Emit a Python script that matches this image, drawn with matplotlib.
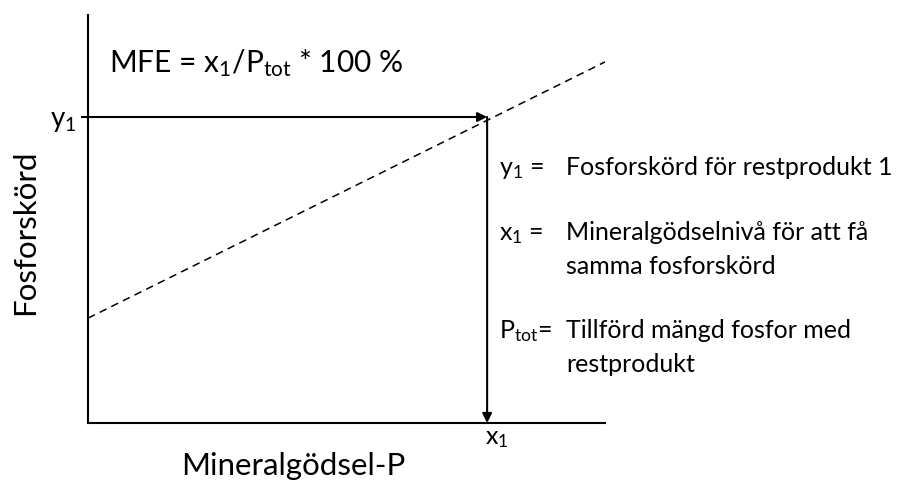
import matplotlib
matplotlib.use("Agg")
import matplotlib.pyplot as plt

plt.rcParams['font.family'] = ['Lato', 'DejaVu Sans']
plt.rcParams['mathtext.fontset'] = 'custom'
plt.rcParams['mathtext.rm'] = 'Lato'
plt.rcParams['mathtext.it'] = 'Lato'

# Data (conceptual units, axis spans 0..1)
line_x = [0.0, 1.0]
line_y = [0.257, 0.885]
x1 = 0.772
y1 = 0.75

x_label = "Mineralgödsel-P"
y_label = "Fosforskörd"
formula = r"MFE = x$_1$/P$_{\mathrm{tot}}$ * 100 %"
defs = [
    (r"y$_1$ =", "Fosforskörd för restprodukt 1", None),
    (r"x$_1$ =", "Mineralgödselnivå för att få", "samma fosforskörd"),
    (r"P$_{\mathrm{tot}}$=", "Tillförd mängd fosfor med", "restprodukt"),
]

W, H = 909, 486
fig = plt.figure(figsize=(W / 100, H / 100), dpi=100)
ax = fig.add_axes([88 / W, (H - 423) / H, (605 - 88) / W, (423 - 15) / H])
ax.set_xlim(0, 1)
ax.set_ylim(0, 1)
ax.patch.set_alpha(0)
for s in ['top', 'right']:
    ax.spines[s].set_visible(False)
for s in ['left', 'bottom']:
    ax.spines[s].set_linewidth(1.5)
    ax.spines[s].set_color('black')

ax.plot(line_x, line_y, color='black', lw=1.1, ls=(0, (5, 3.5)))

ax.annotate("", xy=(x1, y1), xytext=(0, y1),
            arrowprops=dict(arrowstyle='-|>', color='black', lw=1.5,
                            mutation_scale=14, shrinkA=0, shrinkB=0))
ax.annotate("", xy=(x1, 0), xytext=(x1, y1),
            arrowprops=dict(arrowstyle='-|>', color='black', lw=1.5,
                            mutation_scale=14, shrinkA=0, shrinkB=0))

ax.set_yticks([y1])
ax.set_yticklabels([r"y$_1$"], fontsize=20)
ax.set_xticks([x1])
ax.set_xticklabels([r"x$_1$"], fontsize=18, ha='left')
ax.tick_params(axis='y', length=5, width=1.5, pad=3)
ax.tick_params(axis='x', length=0, pad=3)
for lab in ax.get_xticklabels():
    lab.set_x(x1)
import matplotlib.transforms as mtransforms
for lab in ax.get_xticklabels():
    lab.set_transform(lab.get_transform() + mtransforms.ScaledTranslation(-2 / 100, 0, fig.dpi_scale_trans))

ax.set_xlabel(x_label, fontsize=22.5)
ax.xaxis.set_label_coords((293 - 88) / 517, -(466 - 423) / 408)
ax.xaxis.label.set_va('center')
ax.set_ylabel(y_label, fontsize=22.5)
ax.yaxis.set_label_coords(-(88 - 25) / 517, (423 - 232) / 408)
ax.yaxis.label.set_va('center')

fig.text(109 / W, 1 - 72 / H, formula, fontsize=21.5, va='baseline', ha='left')

rows_y = [175, 240, 338]
for (lab, t1, t2), yy in zip(defs, rows_y):
    fig.text(499 / W, 1 - yy / H, lab, fontsize=18, va='baseline', ha='left')
    fig.text(566 / W, 1 - yy / H, t1, fontsize=18, va='baseline', ha='left')
    if t2:
        fig.text(566 / W, 1 - (yy + 34) / H, t2, fontsize=18, va='baseline', ha='left')

fig.savefig("out.png", dpi=100)
